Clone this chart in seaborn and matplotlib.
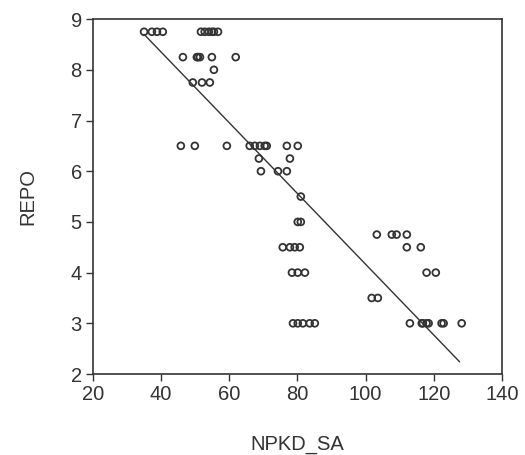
import matplotlib
matplotlib.use("Agg")
import matplotlib.pyplot as plt
import numpy as np
import pandas as pd
import seaborn as sns

# values, one list per REPO level
npkd_sa = [
    35.0, 37.3, 38.8, 40.5, 51.7, 52.8, 54.0, 54.9, 55.5, 56.7,
    46.4, 50.5, 50.8, 51.4, 54.9, 61.9,
    55.5,
    49.3, 52.0, 54.3,
    45.8, 49.9, 59.3, 66.0, 67.5, 69.0, 70.4, 71.0, 76.9, 80.1,
    68.7, 77.8,
    69.3, 74.3, 76.9,
    81.0,
    80.1, 81.0,
    103.3, 107.7, 109.1, 112.1,
    75.7, 77.8, 79.2, 80.7, 112.1, 116.2,
    78.4, 80.1, 82.2, 117.9, 120.6,
    101.8, 103.6,
    78.7, 80.1, 81.6, 83.6, 85.1, 113.0, 116.5, 116.8, 117.9, 118.5,
    122.3, 122.9, 128.2,
]
repo = (
    [8.75] * 10
    + [8.25] * 6
    + [8.0]
    + [7.75] * 3
    + [6.5] * 10
    + [6.25] * 2
    + [6.0] * 3
    + [5.5]
    + [5.0] * 2
    + [4.75] * 4
    + [4.5] * 6
    + [4.0] * 5
    + [3.5] * 2
    + [3.0] * 13
)

# fitted line end points as drawn in the reference
fit_x = [35.0, 127.6]
fit_y = [8.70, 2.24]

df = pd.DataFrame({"NPKD_SA": npkd_sa, "REPO": repo})
fit = pd.DataFrame({"NPKD_SA": fit_x, "REPO": fit_y})

sns.set_style("white")
plt.rcParams["font.family"] = ["Liberation Sans", "DejaVu Sans"]
ink = "#333333"

fig = plt.figure(figsize=(5.25, 4.55), dpi=100)
ax = fig.add_axes([0.177, 0.178, 0.779, 0.780])

sns.scatterplot(
    data=df, x="NPKD_SA", y="REPO", ax=ax,
    marker="o", s=24, facecolors="none", edgecolor=ink, linewidth=1.3,
)
sns.lineplot(data=fit, x="NPKD_SA", y="REPO", ax=ax, color=ink, linewidth=1.0)

ax.set_xlim(20, 140)
ax.set_ylim(2, 9)
ax.set_xticks([20, 40, 60, 80, 100, 120, 140])
ax.set_yticks([2, 3, 4, 5, 6, 7, 8, 9])
ax.tick_params(axis="both", direction="out", length=5, width=1.0,
               color=ink, labelcolor=ink, labelsize=14.5, pad=3,
               bottom=True, left=True)
for sp in ax.spines.values():
    sp.set_color(ink)
    sp.set_linewidth(1.2)

ax.set_xlabel("NPKD_SA", fontsize=14.5, color=ink, labelpad=22)
ax.set_ylabel("REPO", fontsize=14.5, color=ink, labelpad=24)

fig.savefig("out.png", dpi=100)
